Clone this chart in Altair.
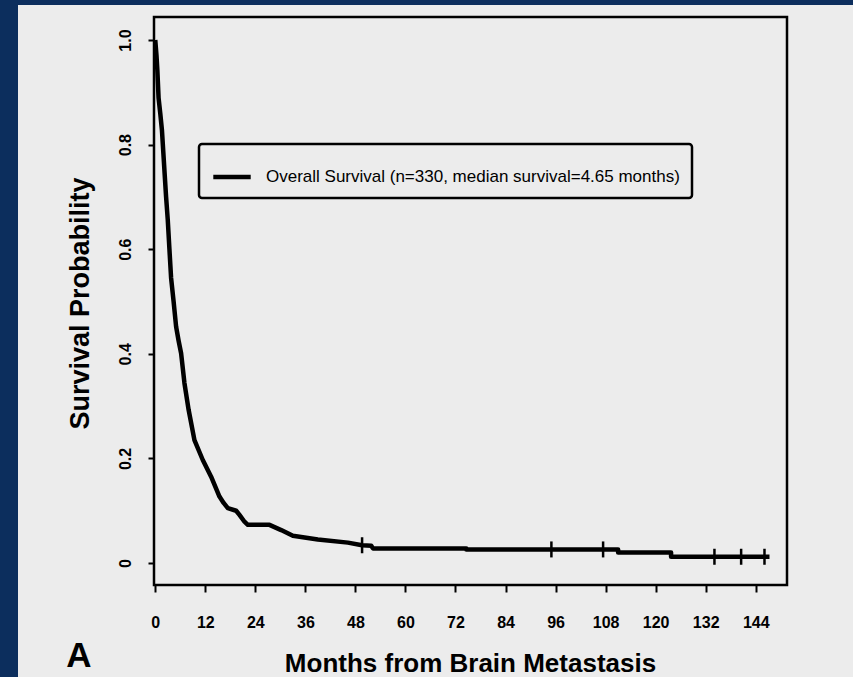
import altair as alt
import pandas as pd

# Kaplan-Meier curve (months, survival probability)
months = [0.0, 0.3, 0.5, 0.8, 1.2, 1.6, 2.2, 2.6, 3.0, 3.4, 3.8, 4.4, 5.0, 5.6, 6.2, 7.0,
          8.0, 9.4, 11.4, 13.4, 15.4, 16.4, 17.4, 19.4, 20.2, 21.4, 22.2, 27.4, 30.2, 33.0,
          39.0, 46.2, 49.6, 51.8, 52.2, 74.6, 74.6, 111.0, 111.0, 123.7, 123.7, 147.3]
surv = [1.0, 0.97, 0.943, 0.889, 0.86, 0.828, 0.751, 0.70, 0.656, 0.60, 0.545, 0.50,
        0.452, 0.425, 0.401, 0.344, 0.293, 0.235, 0.197, 0.165, 0.127, 0.115, 0.105,
        0.100, 0.092, 0.079, 0.073, 0.073, 0.063, 0.052, 0.045, 0.039, 0.034, 0.033,
        0.028, 0.028, 0.026, 0.026, 0.020, 0.020, 0.012, 0.012]

censor_months = [49.6, 95.0, 107.4, 134.1, 140.5, 146.1]
censor_surv = [0.034, 0.026, 0.026, 0.012, 0.012, 0.012]

x_ticks = [0, 12, 24, 36, 48, 60, 72, 84, 96, 108, 120, 132, 144]
y_ticks = [0, 0.2, 0.4, 0.6, 0.8, 1.0]
series_name = "Overall Survival (n=330, median survival=4.65 months)"

FONT = "Liberation Sans"
BG = "#ececec"
BLUE = "#0c2e5d"

curve = pd.DataFrame({"month": months, "surv": surv,
                      "series": [series_name] * len(months),
                      "order": list(range(len(months)))})
censor = pd.DataFrame({"month": censor_months, "surv": censor_surv})

xscale = alt.Scale(domain=[-0.3, 151.5], nice=False, zero=False)
yscale = alt.Scale(domain=[-0.042, 1.044], nice=False, zero=False)

xaxis = alt.Axis(values=x_ticks, title="Months from Brain Metastasis", domain=False, grid=False,
                 tickColor="black", tickWidth=2, tickSize=7, labelPadding=22,
                 labelFont=FONT, labelFontSize=16, labelFontWeight="bold", labelColor="black",
                 labelBaseline="top", labelFlush=False,
                 titleFont=FONT, titleFontSize=26, titleFontWeight="bold", titleColor="black",
                 titleBaseline="middle", titleY=78, titleX=316)
yaxis = alt.Axis(values=y_ticks, title="Survival Probability", domain=False, grid=False,
                 tickColor="black", tickWidth=2, tickSize=6, labelPadding=15,
                 labelAngle=270, labelAlign="center", labelBaseline="bottom",
                 labelExpr="datum.value == 0 ? '0' : format(datum.value, '.1f')",
                 labelFont=FONT, labelFontSize=16, labelFontWeight="bold", labelColor="black",
                 labelFlush=False,
                 titleFont=FONT, titleFontSize=27, titleFontWeight="bold", titleColor="black",
                 titleAngle=270, titleAlign="center", titleBaseline="middle", titleX=-74, titleY=286)

line = alt.Chart(curve).mark_line(color="black", strokeWidth=4.5, clip=False,
                                  strokeJoin="round").encode(
    x=alt.X("month:Q", scale=xscale, axis=xaxis),
    y=alt.Y("surv:Q", scale=yscale, axis=yaxis),
    order=alt.Order("order:Q"),
    color=alt.Color("series:N", scale=alt.Scale(range=["black"]),
                    legend=alt.Legend(title=None, orient="none", legendX=45, legendY=127)),
)

ticks = alt.Chart(censor).mark_tick(color="black", orient="vertical", size=16, thickness=2.5,
                                    opacity=1).encode(
    x=alt.X("month:Q", scale=xscale),
    y=alt.Y("surv:Q", scale=yscale),
)

one = pd.DataFrame({"k": [0]})
left_strip = alt.Chart(one).mark_rect(color=BLUE).encode(
    x=alt.value(-154), x2=alt.value(-136), y=alt.value(-17), y2=alt.value(660))
top_strip = alt.Chart(one).mark_rect(color=BLUE).encode(
    x=alt.value(-154), x2=alt.value(699), y=alt.value(-17), y2=alt.value(-12))
letter = alt.Chart(one).mark_text(text="A", font=FONT, fontSize=35, fontWeight="bold",
                                   color="black", align="center", baseline="alphabetic").encode(
    x=alt.value(-75), y=alt.value(650))

chart = alt.layer(left_strip, top_strip, line, ticks, letter).properties(
    width=633, height=568,
    autosize=alt.AutoSizeParams(type="none"),
    padding={"left": 154, "top": 17, "right": 66, "bottom": 92},
    background=BG,
).configure_view(
    stroke="black", strokeWidth=2.5, fill=BG
).configure_legend(
    strokeColor="black", strokeWidth=2.5, padding=12, cornerRadius=3, fillColor=BG,
    labelFont=FONT, labelFontSize=17, labelColor="black", labelLimit=0, labelOffset=13,
    symbolType="stroke", symbolStrokeWidth=4.5, symbolSize=1400, symbolStrokeColor="black",
)

chart.save("out.html", embed_options={"renderer": "svg", "actions": False})
